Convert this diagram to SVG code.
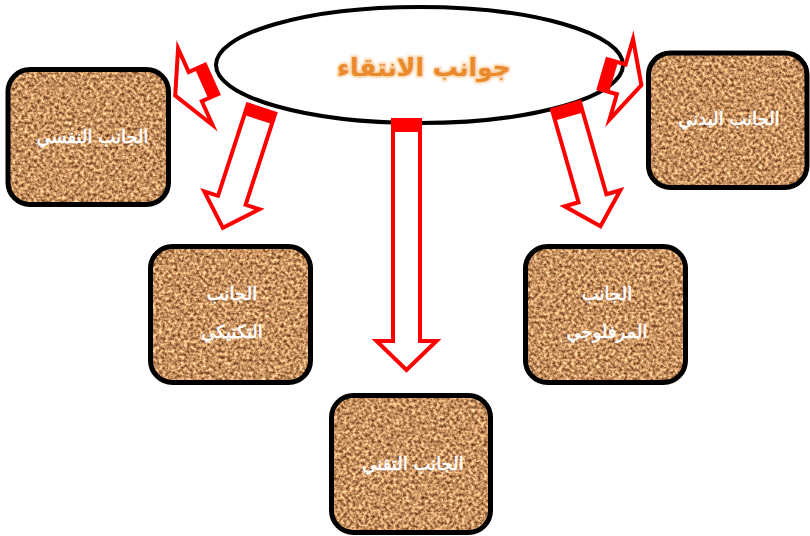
<svg xmlns="http://www.w3.org/2000/svg" width="810" height="536" viewBox="0 0 810 536">
  <defs>
    <filter id="cork" x="0" y="0" width="100%" height="100%" color-interpolation-filters="sRGB">
      <feTurbulence type="fractalNoise" baseFrequency="0.32" numOctaves="3" seed="7" result="n"/>
      <feColorMatrix in="n" type="matrix" values="1.2 0 0 0 0.18  1.1 0 0 0 0.02  0.9 0 0 0 -0.07  0 0 0 0 1" result="c"/>
      <feComposite in="c" in2="SourceGraphic" operator="in"/>
    </filter>
    <filter id="glow" x="-10%" y="-30%" width="120%" height="160%">
      <feGaussianBlur stdDeviation="1.2"/>
    </filter>
    <style>
      .box { fill: #c4905c; }
      .frame { fill: none; stroke: #000; stroke-width: 5; }
      .lbl { font-family: "DejaVu Sans", sans-serif; font-size: 18px; fill: #fff; stroke: #fff; stroke-width: 0.6; text-anchor: middle; direction: rtl; }
      .arrow { fill: #fff; stroke: #f00; stroke-width: 4; stroke-linejoin: miter; stroke-miterlimit: 10; }
      .block { fill: #f00; }
      .title { font-family: "DejaVu Sans", sans-serif; font-size: 25px; font-weight: bold; text-anchor: middle; direction: rtl; }
    </style>
  </defs>

  <rect width="810" height="536" fill="#fff"/>

  <g id="center-node">
    <ellipse cx="419.5" cy="65" rx="203.5" ry="58" fill="#fff" stroke="#000" stroke-width="4"/>
    <text class="title" x="424" y="76" fill="#f7b878" stroke="#f9cc9c" stroke-width="3" filter="url(#glow)">جوانب الانتقاء</text>
    <text class="title" x="424" y="76" fill="#ea8a2c">جوانب الانتقاء</text>
  </g>

  <g id="connectors">
    <g transform="translate(406.5,120)">
      <path class="arrow" d="M -13.5 0 L 13.5 0 L 13.5 221 L 30 221 L 0 250 L -30 221 L -13.5 221 Z"/>
      <rect class="block" x="-13.5" y="0" width="27" height="12"/>
    </g>
    <g transform="translate(261.5,109) rotate(18)">
      <path class="arrow" d="M -14.5 0 L 14.5 0 L 14.5 96 L 29 96 L 0 125 L -29 96 L -14.5 96 Z"/>
      <rect class="block" x="-14.5" y="0" width="29" height="11"/>
    </g>
    <g transform="translate(566,106) rotate(-16)">
      <path class="arrow" d="M -14.5 0 L 14.5 0 L 14.5 96 L 29 96 L 0 125 L -29 96 L -14.5 96 Z"/>
      <rect class="block" x="-14.5" y="0" width="29" height="11"/>
    </g>
    <g transform="translate(211.7,79.3) rotate(65.8)">
      <path class="arrow" d="M -16 0 L 16 0 L 16 18 L 42 18 L 0 40 L -42 18 L -16 18 Z"/>
      <rect class="block" x="-16" y="0" width="32" height="11"/>
    </g>
    <g transform="translate(603,74) rotate(-73.7)">
      <path class="arrow" style="fill:none" d="M -15.5 0 L 15.5 0 L 15.5 19 L 42 19 L 0 40 L -42 19 L -15.5 19 Z"/>
      <rect class="block" x="-15.5" y="0" width="31" height="11"/>
    </g>
  </g>

  <g id="node-psych">
    <rect class="box" x="8" y="69.5" width="160.5" height="135" rx="22" filter="url(#cork)"/>
    <rect class="frame" x="8" y="69.5" width="160.5" height="135" rx="22"/>
    <text class="lbl" x="92.5" y="143">الجانب النفسي</text>
  </g>

  <g id="node-physical">
    <rect class="box" x="648.5" y="53" width="158.5" height="134.5" rx="22" filter="url(#cork)"/>
    <rect class="frame" x="648.5" y="53" width="158.5" height="134.5" rx="22"/>
    <text class="lbl" x="729" y="125">الجانب البدني</text>
  </g>

  <g id="node-tactical">
    <rect class="box" x="150.5" y="246.5" width="160" height="136" rx="22" filter="url(#cork)"/>
    <rect class="frame" x="150.5" y="246.5" width="160" height="136" rx="22"/>
    <text class="lbl" x="232" y="300">الجانب</text>
    <text class="lbl" x="232" y="338">التكتيكي</text>
  </g>

  <g id="node-technical">
    <rect class="box" x="331.5" y="395.5" width="159" height="137" rx="22" filter="url(#cork)"/>
    <rect class="frame" x="331.5" y="395.5" width="159" height="137" rx="22"/>
    <text class="lbl" x="413" y="470">الجانب التقني</text>
  </g>

  <g id="node-morph">
    <rect class="box" x="525.5" y="246.5" width="160" height="136" rx="22" filter="url(#cork)"/>
    <rect class="frame" x="525.5" y="246.5" width="160" height="136" rx="22"/>
    <text class="lbl" x="607" y="300">الجانب</text>
    <text class="lbl" x="607" y="338">المرفلوجي</text>
  </g>
</svg>
